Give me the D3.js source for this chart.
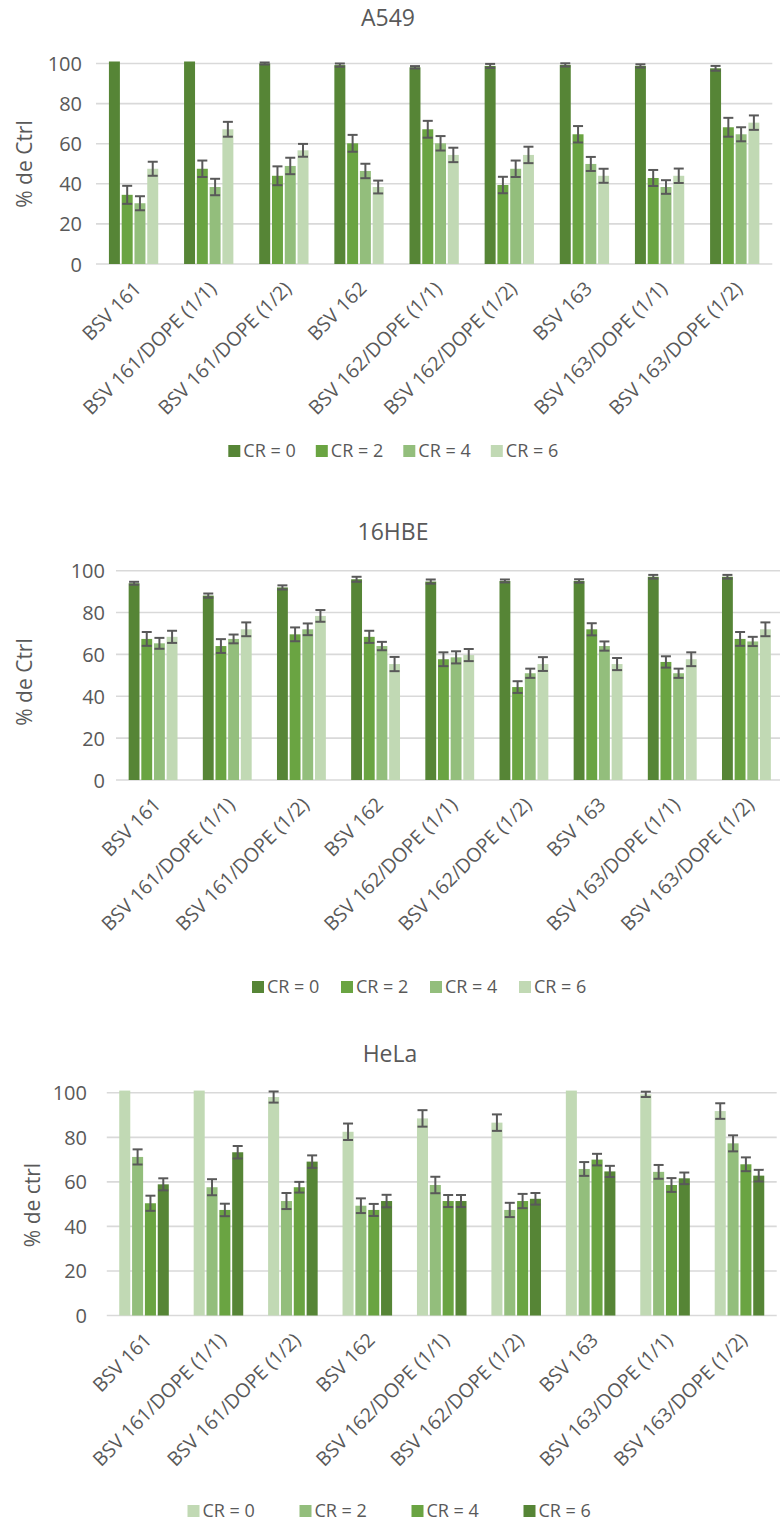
<!DOCTYPE html>
<html>
<head>
<meta charset="utf-8">
<script src="https://cdn.jsdelivr.net/npm/d3@7"></script>
<style>
  html, body { margin: 0; padding: 0; background: #fff; }
  svg { display: block; }
  text { font-family: "Open Sans", "Noto Sans", sans-serif; fill: #595959; }
</style>
</head>
<body>
<svg id="chart" width="780" height="1521"></svg>
<script>
// ---------- data ----------
const categories = ["BSV 161","BSV 161/DOPE (1/1)","BSV 161/DOPE (1/2)","BSV 162","BSV 162/DOPE (1/1)","BSV 162/DOPE (1/2)","BSV 163","BSV 163/DOPE (1/1)","BSV 163/DOPE (1/2)"];
const seriesNames = ["CR = 0","CR = 2","CR = 4","CR = 6"];
const yTicks = [0, 20, 40, 60, 80, 100];

// A549
const a549_cr0 = [101, 101, 100, 99.2, 98.1, 98.8, 99.3, 98.8, 97.6];
const a549_cr2 = [34.5, 47.5, 44, 60.2, 67.2, 39.4, 64.7, 42.9, 68.2];
const a549_cr4 = [30.3, 38.4, 48.9, 46.4, 60.2, 47.5, 49.9, 38.4, 64.7];
const a549_cr6 = [47.5, 67.2, 56.7, 38.4, 54.4, 54.4, 44, 44, 70.5];
const a549_err0 = [0, 0, 0.5, 0.8, 0.6, 1, 0.8, 0.8, 1.2];
const a549_err2 = [4.5, 4.1, 4.7, 4.2, 4.2, 4.1, 4.1, 4, 4.7];
const a549_err4 = [3.5, 4.1, 4.1, 3.6, 3.6, 4.1, 3.5, 3.4, 3.5];
const a549_err6 = [3.5, 3.7, 3.2, 3.2, 3.6, 4.1, 3.5, 3.6, 3.6];

// 16HBE
const hbe_cr0 = [94, 88.1, 92, 95.9, 94.8, 95.1, 95.1, 97.1, 97.1];
const hbe_cr2 = [67.4, 64, 69.6, 68.4, 57.7, 44.4, 72, 56.4, 67.4];
const hbe_cr4 = [65.3, 67.4, 72, 64, 58.6, 51, 64, 51, 66.2];
const hbe_cr6 = [68.4, 72, 78.4, 55.4, 59.7, 55.4, 55.4, 57.7, 72];
const hbe_err0 = [0.7, 1, 1, 1.2, 1, 0.7, 0.8, 0.9, 0.9];
const hbe_err2 = [3.3, 3.3, 3.3, 2.9, 3.3, 2.8, 2.9, 2.7, 3.3];
const hbe_err4 = [2.6, 2.1, 2.8, 2, 2.9, 2.2, 2.2, 2.2, 2.2];
const hbe_err6 = [2.9, 3.3, 2.8, 3.4, 2.9, 3.3, 2.9, 3.3, 3.3];

// HeLa
const hela_cr0 = [101, 101, 98.1, 82.5, 88.5, 86.6, 101, 99.3, 91.8];
const hela_cr2 = [71.2, 57.6, 51.4, 49.3, 58.6, 47.4, 65.8, 64.5, 77.3];
const hela_cr4 = [50.4, 47.4, 57.6, 47.4, 51.4, 51.4, 70, 58.6, 67.9];
const hela_cr6 = [58.9, 73.3, 69.1, 51.4, 51.4, 52.4, 64.7, 61.6, 62.8];
const hela_err0 = [0, 0, 2.5, 3.7, 3.7, 3.7, 0, 1.2, 3.5];
const hela_err2 = [3.4, 3.6, 3.6, 3.3, 3.7, 3.2, 3.1, 3.1, 3.6];
const hela_err4 = [3.4, 2.8, 2.4, 2.7, 2.7, 3.2, 2.6, 3.1, 3.1];
const hela_err6 = [2.7, 2.8, 2.8, 2.8, 2.7, 2.6, 2.5, 2.6, 2.6];

// ---------- styles ----------
const greensDarkFirst = ["#568536", "#6aa442", "#93be7c", "#c1d9b4"];
const greensLightFirst = ["#c1d9b4", "#93be7c", "#6aa442", "#568536"];

const svg = d3.select("#chart");

function drawChart(cfg) {
  const g = svg.append("g");
  const x0 = d3.scaleBand().domain(categories).range([cfg.left, cfg.right]).padding(0);
  const step = x0.bandwidth();
  const groupW = step * cfg.groupFrac;
  const x1 = d3.scaleBand().domain(d3.range(4)).range([0, groupW]).padding(0);
  const barW = x1.bandwidth() - 1.8;
  const y = d3.scaleLinear().domain([0, 100]).range([cfg.bottom, cfg.top]);

  // gridlines
  g.append("g").selectAll("line").data(yTicks).join("line")
    .attr("x1", cfg.left).attr("x2", cfg.right)
    .attr("y1", d => y(d)).attr("y2", d => y(d))
    .attr("stroke", "#d9d9d9").attr("stroke-width", 1.6);

  // y tick labels via axis
  const yAxis = d3.axisLeft(y).tickValues(yTicks).tickSize(0).tickPadding(0);
  const ya = g.append("g").attr("transform", `translate(${cfg.tickRight},0)`).call(yAxis);
  ya.select(".domain").remove();
  ya.selectAll("text").attr("font-size", 20).attr("fill", "#595959")
    .style("font-family", '"Open Sans", sans-serif').attr("dy", "0.35em");

  // bars
  const rows = categories.map((c, i) => ({
    cat: c,
    vals: cfg.series.map((s, k) => ({ k, v: s[i], e: cfg.errs[k][i] }))
  }));
  const grp = g.append("g").selectAll("g").data(rows).join("g")
    .attr("transform", d => `translate(${x0(d.cat) + (step - groupW) / 2},0)`);
  grp.selectAll("rect").data(d => d.vals).join("rect")
    .attr("x", d => x1(d.k) + (x1.bandwidth() - barW) / 2)
    .attr("width", barW)
    .attr("y", d => y(d.v))
    .attr("height", d => y(0) - y(d.v))
    .attr("fill", d => cfg.colors[d.k]);

  // error bars
  const eb = grp.selectAll("g.err").data(d => d.vals.filter(v => v.e > 0)).join("g").attr("class", "err");
  const capW = 10;
  eb.append("line")
    .attr("x1", d => x1(d.k) + x1.bandwidth() / 2).attr("x2", d => x1(d.k) + x1.bandwidth() / 2)
    .attr("y1", d => y(d.v + d.e)).attr("y2", d => y(d.v - d.e));
  eb.append("line")
    .attr("x1", d => x1(d.k) + x1.bandwidth() / 2 - capW / 2).attr("x2", d => x1(d.k) + x1.bandwidth() / 2 + capW / 2)
    .attr("y1", d => y(d.v + d.e)).attr("y2", d => y(d.v + d.e));
  eb.append("line")
    .attr("x1", d => x1(d.k) + x1.bandwidth() / 2 - capW / 2).attr("x2", d => x1(d.k) + x1.bandwidth() / 2 + capW / 2)
    .attr("y1", d => y(d.v - d.e)).attr("y2", d => y(d.v - d.e));
  eb.selectAll("line").attr("stroke", "#595959").attr("stroke-width", 2);

  // x labels
  g.append("g").selectAll("text").data(categories).join("text")
    .attr("transform", d => `translate(${x0(d) + step / 2 + cfg.lblDx},${cfg.bottom + cfg.lblDy}) rotate(-45)`)
    .attr("text-anchor", "end").attr("dy", "0.35em")
    .attr("font-size", 19.5)
    .text(d => d);

  // title
  g.append("text").attr("x", cfg.titleX).attr("y", cfg.titleY)
    .attr("text-anchor", "middle").attr("font-size", 23).text(cfg.title);

  // y axis title
  g.append("text")
    .attr("transform", `translate(${cfg.yLabelX},${cfg.yLabelY}) rotate(-90)`)
    .attr("text-anchor", "middle").attr("dy", "0.35em").attr("font-size", 21)
    .text(cfg.yLabel);

  // legend
  const lg = g.append("g").selectAll("g").data(seriesNames).join("g")
    .attr("transform", (d, i) => `translate(${cfg.legendX + i * cfg.legendStep},${cfg.legendY})`);
  lg.append("rect").attr("x", 0).attr("y", -6).attr("width", 12).attr("height", 12)
    .attr("fill", (d, i) => cfg.colors[i]);
  lg.append("text").attr("x", 15).attr("y", 0).attr("dy", "0.35em").attr("font-size", 18).text(d => d);
}

drawChart({
  title: "A549", titleX: 388, titleY: 26,
  left: 96, right: 772.3, top: 63.5, bottom: 264, groupFrac: 0.68,
  tickRight: 82, yLabel: "% de Ctrl", yLabelX: 25, yLabelY: 164,
  lblDx: 4, lblDy: 21,
  series: [a549_cr0, a549_cr2, a549_cr4, a549_cr6],
  errs: [a549_err0, a549_err2, a549_err4, a549_err6],
  colors: greensDarkFirst,
  legendX: 228.3, legendStep: 87.5, legendY: 451
});

drawChart({
  title: "16HBE", titleX: 393, titleY: 540,
  left: 116, right: 783.5, top: 570.7, bottom: 780, groupFrac: 0.683,
  tickRight: 105, yLabel: "% de Ctrl", yLabelX: 25, yLabelY: 682,
  lblDx: 4, lblDy: 21,
  series: [hbe_cr0, hbe_cr2, hbe_cr4, hbe_cr6],
  errs: [hbe_err0, hbe_err2, hbe_err4, hbe_err6],
  colors: greensDarkFirst,
  legendX: 252, legendStep: 89, legendY: 987
});

drawChart({
  title: "HeLa", titleX: 390, titleY: 1062,
  left: 106.8, right: 776.7, top: 1092.8, bottom: 1315.5, groupFrac: 0.69,
  tickRight: 87, yLabel: "% de ctrl", yLabelX: 33, yLabelY: 1205,
  lblDx: 4, lblDy: 21,
  series: [hela_cr0, hela_cr2, hela_cr4, hela_cr6],
  errs: [hela_err0, hela_err2, hela_err4, hela_err6],
  colors: greensLightFirst,
  legendX: 187.5, legendStep: 112, legendY: 1511
});
</script>
</body>
</html>
